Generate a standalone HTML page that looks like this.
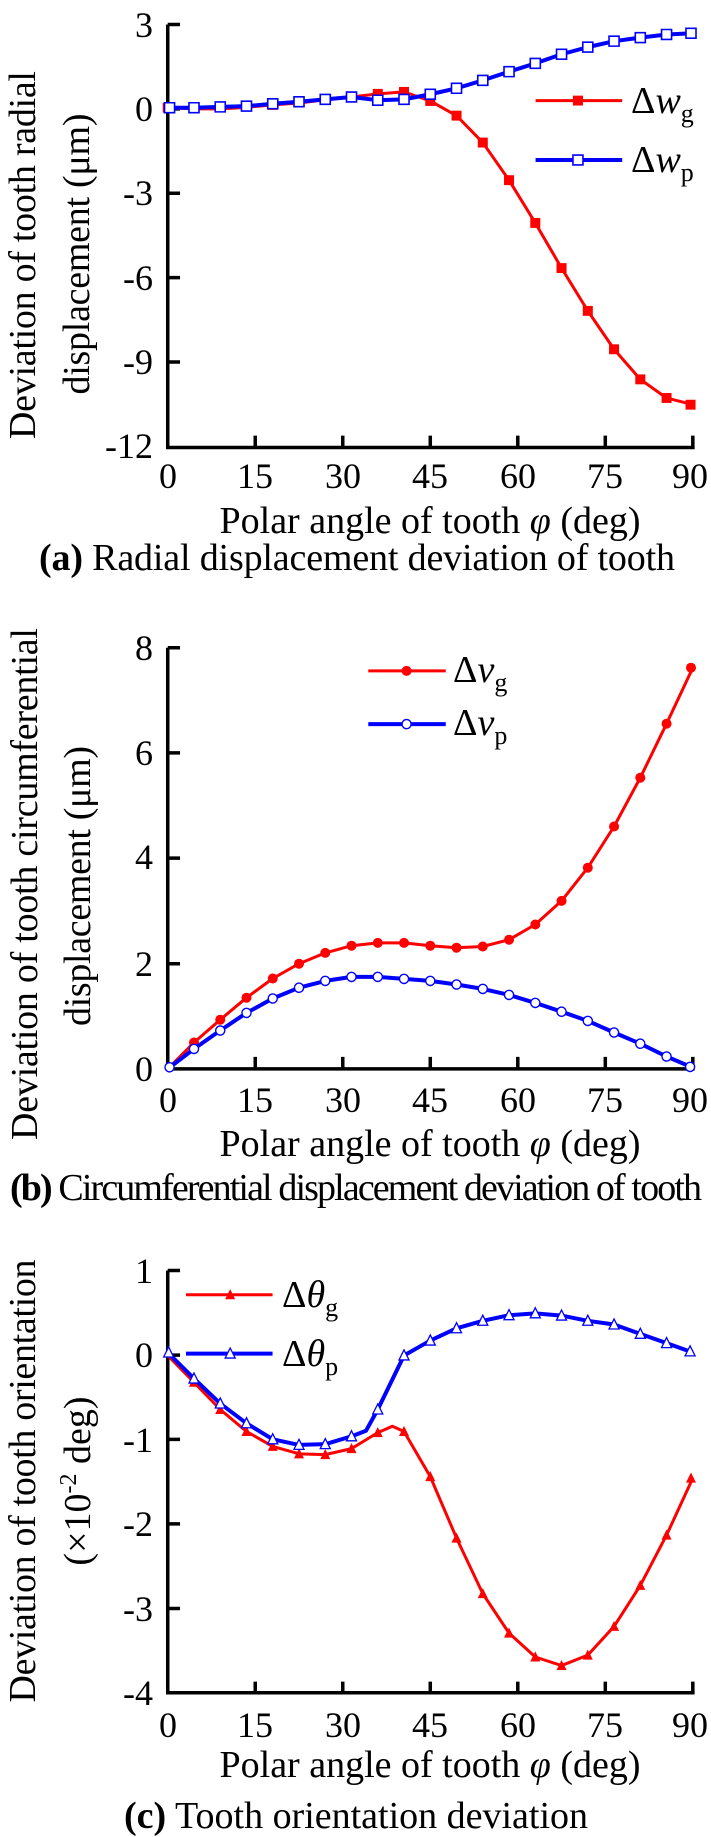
<!DOCTYPE html>
<html><head><meta charset="utf-8"><style>
html,body{margin:0;padding:0;background:#fff;width:711px;height:1837px;overflow:hidden}
svg{display:block;position:absolute;left:0}
text{font-family:"Liberation Serif",serif;fill:#000}
.ns{vector-effect:non-scaling-stroke}
</style></head><body>

<svg style="top:0" width="711" height="620" viewBox="0 0 711 620">
<defs>
<rect id="sqR" x="-11" y="-12.5" width="22" height="25" fill="#f00"/>
<rect id="sqB" x="-11" y="-12.5" width="22" height="25" fill="#fff" stroke="#00f" stroke-width="1.6" vector-effect="non-scaling-stroke"/>
</defs>
<g font-size="36" text-anchor="end">
<text x="153" y="37">3</text><text x="153" y="121">0</text><text x="153" y="205">-3</text><text x="153" y="290">-6</text><text x="153" y="374">-9</text><text x="153" y="458">-12</text>
</g>
<g font-size="36" text-anchor="middle">
<text x="168" y="488">0</text><text x="255" y="488">15</text><text x="343" y="488">30</text><text x="430" y="488">45</text><text x="518" y="488">60</text><text x="605" y="488">75</text><text x="690" y="488">90</text>
</g>
<text x="430" y="533" font-size="38" text-anchor="middle">Polar angle of tooth <tspan font-style="italic">φ</tspan> (deg)</text>
<text x="39" y="570" font-size="38" textLength="636"><tspan font-weight="bold">(a)</tspan> Radial displacement deviation of tooth</text>
<text transform="translate(35,255) rotate(-90)" font-size="38" text-anchor="middle" textLength="368">Deviation of tooth radial</text>
<text transform="translate(89,254) rotate(-90)" font-size="38" text-anchor="middle" textLength="281">displacement (μm)</text>
<g transform="scale(0.4558,0.396)">
<path class="ns" d="M368 62V1130H1524M368 62h27M368 275h27M368 488h27M368 701h27M368 914h27M560 1130v-30M752 1130v-30M944 1130v-30M1136 1130v-30M1328 1130v-30M1520 1130v-30" stroke="#000" stroke-width="3.5" fill="none"/>
<polyline class="ns" fill="none" stroke="#f00" stroke-width="3" stroke-linejoin="round" points="368,272 425.6,275 483.2,275 540.8,271 598.4,265 656,260 713.6,252 771.2,245 828.8,237 886.4,232 944,255 1001.6,292 1059.2,360 1116.8,455 1174.4,563 1232,677 1289.6,785 1347.2,882 1404.8,958 1462.4,1005 1520,1022"/>
<g><use href="#sqR" x="368" y="272"/><use href="#sqR" x="598.4" y="265"/><use href="#sqR" x="828.8" y="237"/><use href="#sqR" x="886.4" y="232"/><use href="#sqR" x="944" y="255"/><use href="#sqR" x="1001.6" y="292"/><use href="#sqR" x="1059.2" y="360"/><use href="#sqR" x="1116.8" y="455"/><use href="#sqR" x="1174.4" y="563"/><use href="#sqR" x="1232" y="677"/><use href="#sqR" x="1289.6" y="785"/><use href="#sqR" x="1347.2" y="882"/><use href="#sqR" x="1404.8" y="958"/><use href="#sqR" x="1462.4" y="1005"/><use href="#sqR" x="1515" y="1022"/></g>
<polyline class="ns" fill="none" stroke="#00f" stroke-width="4" stroke-linejoin="round" points="368,272 425.6,272 483.2,270 540.8,268 598.4,262 656,257 713.6,251 771.2,245 828.8,253 886.4,251 944,238 1001.6,223 1059.2,203 1116.8,181 1174.4,160 1232,137 1289.6,119 1347.2,104 1404.8,95 1462.4,87 1520,84"/>
<g><use href="#sqB" x="372" y="272"/><use href="#sqB" x="425.6" y="272"/><use href="#sqB" x="483.2" y="270"/><use href="#sqB" x="540.8" y="268"/><use href="#sqB" x="598.4" y="262"/><use href="#sqB" x="656" y="257"/><use href="#sqB" x="713.6" y="251"/><use href="#sqB" x="771.2" y="245"/><use href="#sqB" x="828.8" y="253"/><use href="#sqB" x="886.4" y="251"/><use href="#sqB" x="944" y="238"/><use href="#sqB" x="1001.6" y="223"/><use href="#sqB" x="1059.2" y="203"/><use href="#sqB" x="1116.8" y="181"/><use href="#sqB" x="1174.4" y="160"/><use href="#sqB" x="1232" y="137"/><use href="#sqB" x="1289.6" y="119"/><use href="#sqB" x="1347.2" y="104"/><use href="#sqB" x="1404.8" y="95"/><use href="#sqB" x="1462.4" y="87"/><use href="#sqB" x="1516" y="84"/></g>
<path class="ns" d="M1175 254H1365" stroke="#f00" stroke-width="3"/><use href="#sqR" x="1268" y="254"/>
<path class="ns" d="M1175 404H1365" stroke="#00f" stroke-width="4"/><use href="#sqB" x="1268" y="404"/>
</g>
<text x="631" y="113" font-size="38">Δ<tspan font-style="italic">w</tspan><tspan font-size="26" dy="9">g</tspan></text>
<text x="631" y="172" font-size="38">Δ<tspan font-style="italic">w</tspan><tspan font-size="26" dy="9">p</tspan></text>
</svg>

<svg style="top:620px" width="711" height="630" viewBox="0 0 711 630">
<defs>
<ellipse id="ciR" rx="11" ry="12.5" fill="#f00"/>
<ellipse id="ciB" rx="10" ry="11.5" fill="#fff" stroke="#00f" stroke-width="1.4" vector-effect="non-scaling-stroke"/>
</defs>
<g font-size="36" text-anchor="end">
<text x="153" y="40">8</text><text x="153" y="145">6</text><text x="153" y="249">4</text><text x="153" y="356">2</text><text x="153" y="461">0</text>
</g>
<g font-size="36" text-anchor="middle">
<text x="168" y="492">0</text><text x="255" y="492">15</text><text x="343" y="492">30</text><text x="430" y="492">45</text><text x="518" y="492">60</text><text x="605" y="492">75</text><text x="690" y="492">90</text>
</g>
<text x="430" y="536" font-size="38" text-anchor="middle">Polar angle of tooth <tspan font-style="italic">φ</tspan> (deg)</text>
<text x="10" y="580" font-size="38" textLength="692"><tspan font-weight="bold">(b)</tspan> Circumferential displacement deviation of tooth</text>
<text transform="translate(37,264) rotate(-90)" font-size="38" text-anchor="middle" textLength="512">Deviation of tooth circumferential</text>
<text transform="translate(90,266) rotate(-90)" font-size="38" text-anchor="middle" textLength="280">displacement (μm)</text>
<g transform="translate(0,1.7) scale(0.4558,0.4)">
<path class="ns" d="M368 65V1118H1524M368 65h27M368 328h27M368 591h27M368 855h27M560 1118v-30M752 1118v-30M944 1118v-30M1136 1118v-30M1328 1118v-30M1520 1118v-30" stroke="#000" stroke-width="3.5" fill="none"/>
<polyline class="ns" fill="none" stroke="#f00" stroke-width="3" stroke-linejoin="round" points="368,1118 425.6,1052 483.2,995 540.8,940 598.4,892 656,855 713.6,828 771.2,810 828.8,803 886.4,803 944,810 1001.6,815 1059.2,812 1116.8,795 1174.4,757 1232,698 1289.6,615 1347.2,512 1404.8,390 1462.4,255 1520,115"/>
<g><use href="#ciR" x="425.6" y="1052"/><use href="#ciR" x="483.2" y="995"/><use href="#ciR" x="540.8" y="940"/><use href="#ciR" x="598.4" y="892"/><use href="#ciR" x="656" y="855"/><use href="#ciR" x="713.6" y="828"/><use href="#ciR" x="771.2" y="810"/><use href="#ciR" x="828.8" y="803"/><use href="#ciR" x="886.4" y="803"/><use href="#ciR" x="944" y="810"/><use href="#ciR" x="1001.6" y="815"/><use href="#ciR" x="1059.2" y="812"/><use href="#ciR" x="1116.8" y="795"/><use href="#ciR" x="1174.4" y="757"/><use href="#ciR" x="1232" y="698"/><use href="#ciR" x="1289.6" y="615"/><use href="#ciR" x="1347.2" y="512"/><use href="#ciR" x="1404.8" y="390"/><use href="#ciR" x="1462.4" y="255"/><use href="#ciR" x="1516" y="115"/></g>
<polyline class="ns" fill="none" stroke="#00f" stroke-width="4" stroke-linejoin="round" points="368,1118 425.6,1068 483.2,1022 540.8,978 598.4,942 656,915 713.6,898 771.2,888 828.8,888 886.4,893 944,898 1001.6,907 1059.2,918 1116.8,933 1174.4,953 1232,975 1289.6,998 1347.2,1027 1404.8,1055 1462.4,1087 1520,1115"/>
<g><use href="#ciB" x="372" y="1114"/><use href="#ciB" x="425.6" y="1068"/><use href="#ciB" x="483.2" y="1022"/><use href="#ciB" x="540.8" y="978"/><use href="#ciB" x="598.4" y="942"/><use href="#ciB" x="656" y="915"/><use href="#ciB" x="713.6" y="898"/><use href="#ciB" x="771.2" y="888"/><use href="#ciB" x="828.8" y="888"/><use href="#ciB" x="886.4" y="893"/><use href="#ciB" x="944" y="898"/><use href="#ciB" x="1001.6" y="907"/><use href="#ciB" x="1059.2" y="918"/><use href="#ciB" x="1116.8" y="933"/><use href="#ciB" x="1174.4" y="953"/><use href="#ciB" x="1232" y="975"/><use href="#ciB" x="1289.6" y="998"/><use href="#ciB" x="1347.2" y="1027"/><use href="#ciB" x="1404.8" y="1055"/><use href="#ciB" x="1462.4" y="1087"/><use href="#ciB" x="1514" y="1113"/></g>
<path class="ns" d="M808 123H978" stroke="#f00" stroke-width="3"/><use href="#ciR" x="892" y="123"/>
<path class="ns" d="M808 256H978" stroke="#00f" stroke-width="4"/><use href="#ciB" x="892" y="256"/>
</g>
<text x="453" y="62" font-size="38">Δ<tspan font-style="italic">v</tspan><tspan font-size="26" dy="9">g</tspan></text>
<text x="453" y="115" font-size="38">Δ<tspan font-style="italic">v</tspan><tspan font-size="26" dy="9">p</tspan></text>
</svg>

<svg style="top:1250px" width="711" height="587" viewBox="0 0 711 587">
<defs>
<path id="trR" d="M0-15L11 12H-11Z" fill="#f00"/>
<path id="trB" d="M0-15L11 12H-11Z" fill="#fff" stroke="#00f" stroke-width="1.3" vector-effect="non-scaling-stroke"/>
</defs>
<g font-size="36" text-anchor="end">
<text x="153" y="33">1</text><text x="153" y="117">0</text><text x="153" y="202">-1</text><text x="153" y="286">-2</text><text x="153" y="371">-3</text><text x="153" y="455">-4</text>
</g>
<g font-size="36" text-anchor="middle">
<text x="168" y="487">0</text><text x="255" y="487">15</text><text x="343" y="487">30</text><text x="430" y="487">45</text><text x="518" y="487">60</text><text x="605" y="487">75</text><text x="690" y="487">90</text>
</g>
<text x="430" y="527" font-size="38" text-anchor="middle">Polar angle of tooth <tspan font-style="italic">φ</tspan> (deg)</text>
<text x="124" y="578" font-size="38" textLength="464"><tspan font-weight="bold">(c)</tspan> Tooth orientation deviation</text>
<text transform="translate(35,231) rotate(-90)" font-size="38" text-anchor="middle" textLength="443">Deviation of tooth orientation</text>
<text transform="translate(90,231) rotate(-90)" font-size="38" text-anchor="middle">(×10<tspan font-size="24" dy="-14">-2</tspan><tspan dy="14"> deg)</tspan></text>
<g transform="scale(0.4558,0.3727)">
<path class="ns" d="M368 55V1188H1524M368 55h27M368 282h27M368 508h27M368 735h27M368 962h27M560 1188v-30M752 1188v-30M944 1188v-30M1136 1188v-30M1328 1188v-30M1520 1188v-30" stroke="#000" stroke-width="3.5" fill="none"/>
<polyline class="ns" fill="none" stroke="#f00" stroke-width="3" stroke-linejoin="round" points="368,283 425.6,355 483.2,428 540.8,487 598.4,527 656,547 713.6,549 771.2,533 828.8,490 860.8,473 886.4,487 944,608 1001.6,773 1059.2,922 1116.8,1028 1174.4,1092 1232,1115 1289.6,1087 1347.2,1010 1404.8,900 1462.4,765 1520,612"/>
<g><use href="#trR" x="425.6" y="355"/><use href="#trR" x="483.2" y="428"/><use href="#trR" x="540.8" y="487"/><use href="#trR" x="598.4" y="527"/><use href="#trR" x="656" y="547"/><use href="#trR" x="713.6" y="549"/><use href="#trR" x="771.2" y="533"/><use href="#trR" x="828.8" y="490"/><use href="#trR" x="886.4" y="487"/><use href="#trR" x="944" y="608"/><use href="#trR" x="1001.6" y="773"/><use href="#trR" x="1059.2" y="922"/><use href="#trR" x="1116.8" y="1028"/><use href="#trR" x="1174.4" y="1092"/><use href="#trR" x="1232" y="1115"/><use href="#trR" x="1289.6" y="1087"/><use href="#trR" x="1347.2" y="1010"/><use href="#trR" x="1404.8" y="900"/><use href="#trR" x="1462.4" y="765"/><use href="#trR" x="1516" y="612"/></g>
<polyline class="ns" fill="none" stroke="#00f" stroke-width="4" stroke-linejoin="round" points="368,275 425.6,345 483.2,412 540.8,465 598.4,508 656,523 713.6,521 771.2,500 803,485 828.8,428 886.4,283 944,243 1001.6,210 1059.2,190 1116.8,175 1174.4,170 1232,176 1289.6,190 1347.2,200 1404.8,225 1462.4,250 1520,275"/>
<g><use href="#trB" x="370" y="275"/><use href="#trB" x="425.6" y="345"/><use href="#trB" x="483.2" y="412"/><use href="#trB" x="540.8" y="465"/><use href="#trB" x="598.4" y="508"/><use href="#trB" x="656" y="523"/><use href="#trB" x="713.6" y="521"/><use href="#trB" x="771.2" y="500"/><use href="#trB" x="828.8" y="428"/><use href="#trB" x="886.4" y="283"/><use href="#trB" x="944" y="243"/><use href="#trB" x="1001.6" y="210"/><use href="#trB" x="1059.2" y="190"/><use href="#trB" x="1116.8" y="175"/><use href="#trB" x="1174.4" y="170"/><use href="#trB" x="1232" y="176"/><use href="#trB" x="1289.6" y="190"/><use href="#trB" x="1347.2" y="200"/><use href="#trB" x="1404.8" y="225"/><use href="#trB" x="1462.4" y="250"/><use href="#trB" x="1514" y="272"/></g>
<path class="ns" d="M408 120H598" stroke="#f00" stroke-width="3"/><use href="#trR" x="505" y="120"/>
<path class="ns" d="M408 278H598" stroke="#00f" stroke-width="4"/><use href="#trB" x="505" y="278"/>
</g>
<text x="282" y="57" font-size="38">Δ<tspan font-style="italic">θ</tspan><tspan font-size="26" dy="9">g</tspan></text>
<text x="282" y="116" font-size="38">Δ<tspan font-style="italic">θ</tspan><tspan font-size="26" dy="9">p</tspan></text>
</svg>
</body></html>
